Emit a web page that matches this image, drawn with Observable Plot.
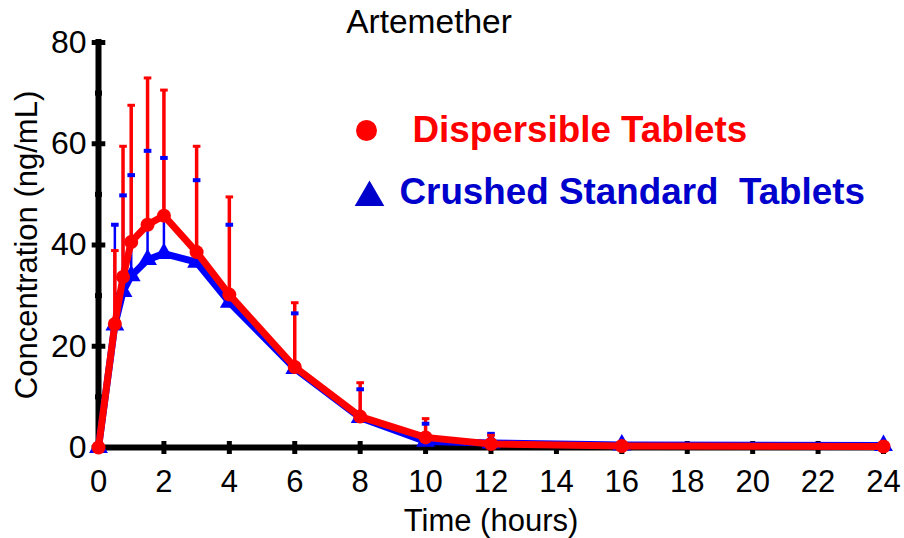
<!DOCTYPE html>
<html><head><meta charset="utf-8">
<script src="https://cdn.jsdelivr.net/npm/d3@7"></script>
<script src="https://cdn.jsdelivr.net/npm/@observablehq/plot@0.6"></script>
<style>
body{margin:0;background:#fff}
#chart svg{overflow:visible}
</style>
</head><body><div id="chart"></div>
<script>
const chartTitle = "Artemether";
const xLabel = "Time (hours)";
const yLabel = "Concentration (ng/mL)";
const seriesNames = ["Dispersible Tablets", "Crushed Standard  Tablets"];
const times     = [0, 0.5, 0.75, 1, 1.5, 2, 3, 4, 6, 8, 10, 12, 16, 24];
const dispMean  = [0, 24.4, 33.7, 40.6, 44.0, 45.8, 38.6, 30.2, 15.9, 6.1, 2.0, 0.7, 0.3, 0.2];
const dispSD    = [0, 14.5, 25.8, 27.0, 29.0, 24.8, 20.9, 19.3, 12.7, 6.7, 3.7, 1.7, 0, 0];
const crushMean = [0, 24.2, 30.8, 33.9, 37.1, 38.3, 36.6, 28.7, 15.6, 5.9, 1.2, 0.9, 0.5, 0.4];
const crushSD   = [0, 19.8, 19.0, 19.9, 21.5, 18.9, 16.2, 15.3, 10.9, 5.6, 3.5, 1.8, 0, 0];
const xTicks = [0, 2, 4, 6, 8, 10, 12, 14, 16, 18, 20, 22, 24];
const yTicks = [0, 20, 40, 60, 80];
const yMinorTicks = [10, 30, 50, 70];

const RED = "#ff0000", BLUE = "#0000ff", DBLUE = "#0000cc";
const FONT = "Liberation Sans, Arial, Helvetica, sans-serif";

const disp = times.map((t, i) => ({t, m: dispMean[i], sd: dispSD[i]}));
const crush = times.map((t, i) => ({t, m: crushMean[i], sd: crushSD[i]}));
const dispErr = disp.filter(d => d.sd > 0);
const crushErr = crush.filter(d => d.sd > 0);

const hline = {draw(ctx, size) { const r = Math.sqrt(size / Math.PI); ctx.moveTo(-r, 0); ctx.lineTo(r, 0); }};
const vline = {draw(ctx, size) { const r = Math.sqrt(size / Math.PI); ctx.moveTo(0, -r); ctx.lineTo(0, r); }};

const chart = Plot.plot({
  width: 904, height: 538,
  marginLeft: 98, marginRight: 21, marginTop: 42, marginBottom: 91,
  style: {fontFamily: FONT, background: "#fff", color: "#000"},
  x: {domain: [0, 24]},
  y: {domain: [0, 80]},
  marks: [
    Plot.ruleY([0], {stroke: "#000", strokeWidth: 6, strokeLinecap: "square"}),
    Plot.ruleX([0], {stroke: "#000", strokeWidth: 6, strokeLinecap: "square"}),
    Plot.dot(yTicks, {y: d => d, frameAnchor: "left", symbol: hline, r: 6.8, stroke: "#000", strokeWidth: 5, fill: "none"}),
    Plot.dot(yMinorTicks, {y: d => d, frameAnchor: "left", symbol: hline, r: 3.5, stroke: "#000", strokeWidth: 5, fill: "none"}),
    Plot.dot(xTicks, {x: d => d, frameAnchor: "bottom", symbol: vline, r: 6.5, stroke: "#000", strokeWidth: 5, fill: "none"}),
    Plot.axisY({ticks: yTicks, tickSize: 0, tickPadding: 12, fontSize: 32, label: null, tickFormat: d => String(d)}),
    Plot.axisX({ticks: xTicks, tickSize: 0, tickPadding: 22, fontSize: 31, label: null, tickFormat: d => String(d)}),
    Plot.ruleX(crushErr, {x: "t", y1: "m", y2: d => d.m + d.sd, stroke: BLUE, strokeWidth: 2.5}),
    Plot.line(crush, {x: "t", y: "m", stroke: BLUE, strokeWidth: 7, strokeLinejoin: "round"}),
    Plot.dot(crush, {x: "t", y: "m", symbol: "triangle", r: 7, fill: BLUE, stroke: null}),
    Plot.ruleX(dispErr, {x: "t", y1: "m", y2: d => d.m + d.sd, stroke: RED, strokeWidth: 3.5}),
    Plot.line(disp, {x: "t", y: "m", stroke: RED, strokeWidth: 7, strokeLinejoin: "round"}),
    Plot.dot(disp, {x: "t", y: "m", r: 7, fill: RED, stroke: null}),
    Plot.dot(crushErr, {x: "t", y: d => d.m + d.sd, symbol: hline, r: 3.8, stroke: BLUE, strokeWidth: 4, fill: "none"}),
    Plot.dot(dispErr, {x: "t", y: d => d.m + d.sd, symbol: hline, r: 3.8, stroke: RED, strokeWidth: 3, fill: "none"}),
    Plot.text([chartTitle], {text: d => d, frameAnchor: "top", textAnchor: "middle", dx: -62, dy: -20.5, lineAnchor: "middle", fontSize: 33.5, fill: "#000"}),
    Plot.text([xLabel], {text: d => d, frameAnchor: "bottom", textAnchor: "middle", dy: 74, lineAnchor: "middle", fontSize: 31, fill: "#000"}),
    Plot.text([yLabel], {text: d => d, frameAnchor: "left", textAnchor: "middle", dx: -71.5, rotate: -90, lineAnchor: "middle", fontSize: 31, fill: "#000"}),
    Plot.dot([seriesNames[0]], {frameAnchor: "top-left", dx: 268, dy: 88, r: 10.5, fill: RED, stroke: null}),
    Plot.dot([seriesNames[1]], {frameAnchor: "top-left", dx: 271, dy: 155, r: 11, symbol: "triangle", fill: DBLUE, stroke: null}),
    Plot.text([seriesNames[0]], {text: d => d, frameAnchor: "top-left", dx: 314, dy: 87.4, textAnchor: "start", lineAnchor: "middle", fontSize: 36.8, fontWeight: "bold", fill: RED}),
    Plot.text([seriesNames[1]], {text: d => d, frameAnchor: "top-left", dx: 301, dy: 149.4, textAnchor: "start", lineAnchor: "middle", fontSize: 36.8, fontWeight: "bold", fill: DBLUE})
  ]
});
document.getElementById("chart").appendChild(chart);
</script>
</body></html>
